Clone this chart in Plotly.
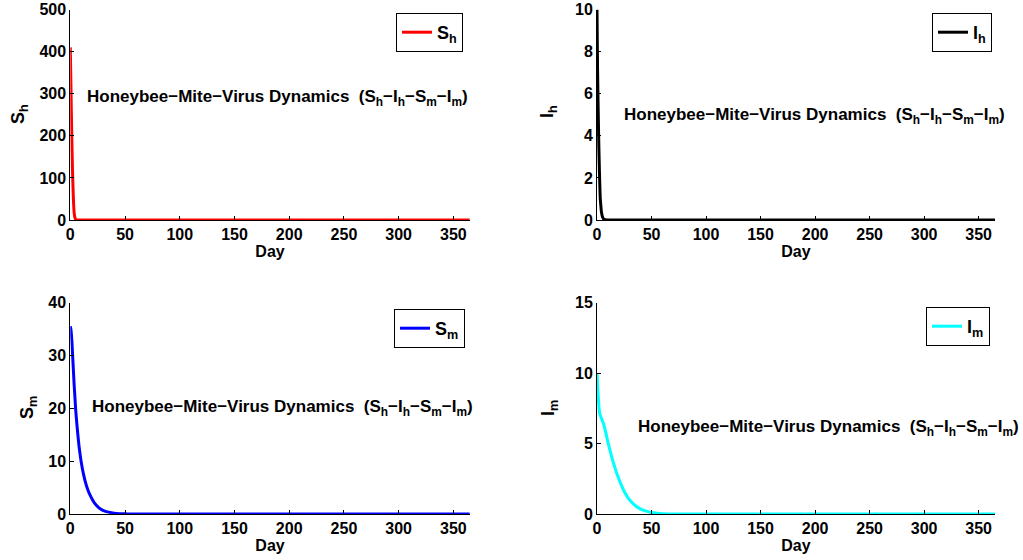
import plotly.graph_objects as go

# time grid (days)
days = [0, 0.5, 1, 1.5, 2, 2.5, 3, 3.5, 4, 5, 6, 7, 8, 10, 12, 14, 16, 18, 20, 22, 25, 28, 31,
        35, 40, 45, 50, 55, 60, 70, 80, 100, 150, 200, 250, 300, 365]

S_h = [410, 330, 250, 180, 120, 75, 40, 18, 8, 1.0, 0.1, 0.02, 0.01, 0, 0, 0, 0, 0, 0, 0, 0, 0, 0,
       0, 0, 0, 0, 0, 0, 0, 0, 0, 0, 0, 0, 0, 0]
I_h = [10, 7.2, 5.5, 4.0, 2.8, 1.8, 1.0, 0.7, 0.4, 0.15, 0.05, 0.02, 0.01, 0, 0, 0, 0, 0, 0, 0, 0, 0, 0,
       0, 0, 0, 0, 0, 0, 0, 0, 0, 0, 0, 0, 0, 0]
S_m = [35.5, 35.0, 34.0, 32.5, 30.5, 28.5, 26.5, 24.5, 22.8, 19.5, 17.0, 14.8, 12.8, 9.8, 7.6, 5.9, 4.6,
       3.6, 2.8, 2.1, 1.4, 0.9, 0.6, 0.35, 0.15, 0.07, 0.03, 0.01, 0.005, 0, 0, 0, 0, 0, 0, 0, 0]
I_m = [10, 9.2, 8.5, 7.9, 7.4, 7.1, 7.0, 6.9, 6.8, 6.6, 6.4, 6.1, 5.8, 5.1, 4.5, 3.9, 3.4,
       2.9, 2.5, 2.1, 1.6, 1.2, 0.9, 0.6, 0.35, 0.2, 0.1, 0.05, 0.02, 0.005, 0, 0, 0, 0, 0, 0, 0]

series = [
    ("S<sub>h</sub>", S_h, "#ff0000", [0, 500], 100),
    ("I<sub>h</sub>", I_h, "#000000", [0, 10], 2),
    ("S<sub>m</sub>", S_m, "#0000ff", [0, 40], 10),
    ("I<sub>m</sub>", I_m, "#00ffff", [0, 15], 5),
]
x_ticks = [0, 50, 100, 150, 200, 250, 300, 350]
title_text = "Honeybee\u2212Mite\u2212Virus Dynamics  (S<sub>h</sub>\u2212I<sub>h</sub>\u2212S<sub>m</sub>\u2212I<sub>m</sub>)"
# annotation anchor (data coords) per panel
ann_pos = [(13.4, 290), (23, 4.95), (18, 20.1), (36, 6.1)]

FONT = "Liberation Sans"
W, H = 1023, 560


def px_x(p):
    return p / W


def px_y(p):
    return 1 - p / H


fig = go.Figure()

xdoms = [[px_x(70.3), px_x(469.8)], [px_x(597), px_x(995)]]
ydoms = [[px_y(220), px_y(9.5)], [px_y(514), px_y(302.5)]]
legend_pos = [(px_x(463), px_y(13)), (px_x(992), px_y(13)),
              (px_x(465), px_y(309)), (px_x(990), px_y(307))]
ytitle_pos = [(20, 114), (549, 112), (28, 408), (549, 408)]

layout = dict(
    width=W, height=H,
    margin=dict(l=0, r=0, t=0, b=0, autoexpand=False),
    paper_bgcolor="white", plot_bgcolor="white",
    font=dict(family=FONT, size=16, color="black", weight="bold"),
    showlegend=True,
)

for i, (name, vals, color, yr, dt) in enumerate(series):
    r, c = divmod(i, 2)
    xa = "xaxis" if i == 0 else f"xaxis{i+1}"
    ya = "yaxis" if i == 0 else f"yaxis{i+1}"
    xref = "x" if i == 0 else f"x{i+1}"
    yref = "y" if i == 0 else f"y{i+1}"
    lg = "legend" if i == 0 else f"legend{i+1}"
    fig.add_trace(go.Scatter(x=days, y=vals, mode="lines", name=name,
                             line=dict(color=color, width=3, shape="spline", smoothing=0.6),
                             xaxis=xref, yaxis=yref, legend=lg))
    layout[xa] = dict(domain=xdoms[c], anchor=yref, range=[0, 365], tickvals=x_ticks,
                      automargin=False, ticklabeloverflow="allow",
                      showline=True, linecolor="black", linewidth=1, ticks="inside", ticklen=4,
                      tickcolor="black", showgrid=False, zeroline=False,
                      tickfont=dict(family=FONT, size=16, weight="bold"),
                      title=dict(text="Day", standoff=0,
                                 font=dict(family=FONT, size=16, weight="bold")))
    layout[ya] = dict(domain=ydoms[r], anchor=xref, range=yr, dtick=dt,
                      automargin=False, ticklabeloverflow="allow",
                      showline=True, linecolor="black", linewidth=1, ticks="inside", ticklen=4,
                      tickcolor="black", showgrid=False, zeroline=False,
                      tickfont=dict(family=FONT, size=16, weight="bold"))
    tx, ty = ytitle_pos[i]
    fig.add_annotation(x=px_x(tx), y=px_y(ty), xref="paper", yref="paper", text=name,
                       textangle=-90, showarrow=False, xanchor="center", yanchor="middle",
                       font=dict(family=FONT, size=18, weight="bold", color="black"))
    lx, ly = legend_pos[i]
    layout[lg] = dict(x=lx, y=ly, xanchor="right", yanchor="top",
                      bordercolor="black", borderwidth=1, bgcolor="white",
                      font=dict(family=FONT, size=18, weight="bold"),
                      itemwidth=30, tracegroupgap=0)
    ax, ay = ann_pos[i]
    fig.add_annotation(x=ax, y=ay, xref=xref, yref=yref, text=title_text, showarrow=False,
                       xanchor="left", yanchor="middle",
                       font=dict(family=FONT, size=17, weight="bold", color="black"))

fig.update_layout(**layout)
fig.write_html("out.html", config={"displayModeBar": False},
               post_script="document.body.style.margin='0px';document.body.style.overflow='hidden';")
